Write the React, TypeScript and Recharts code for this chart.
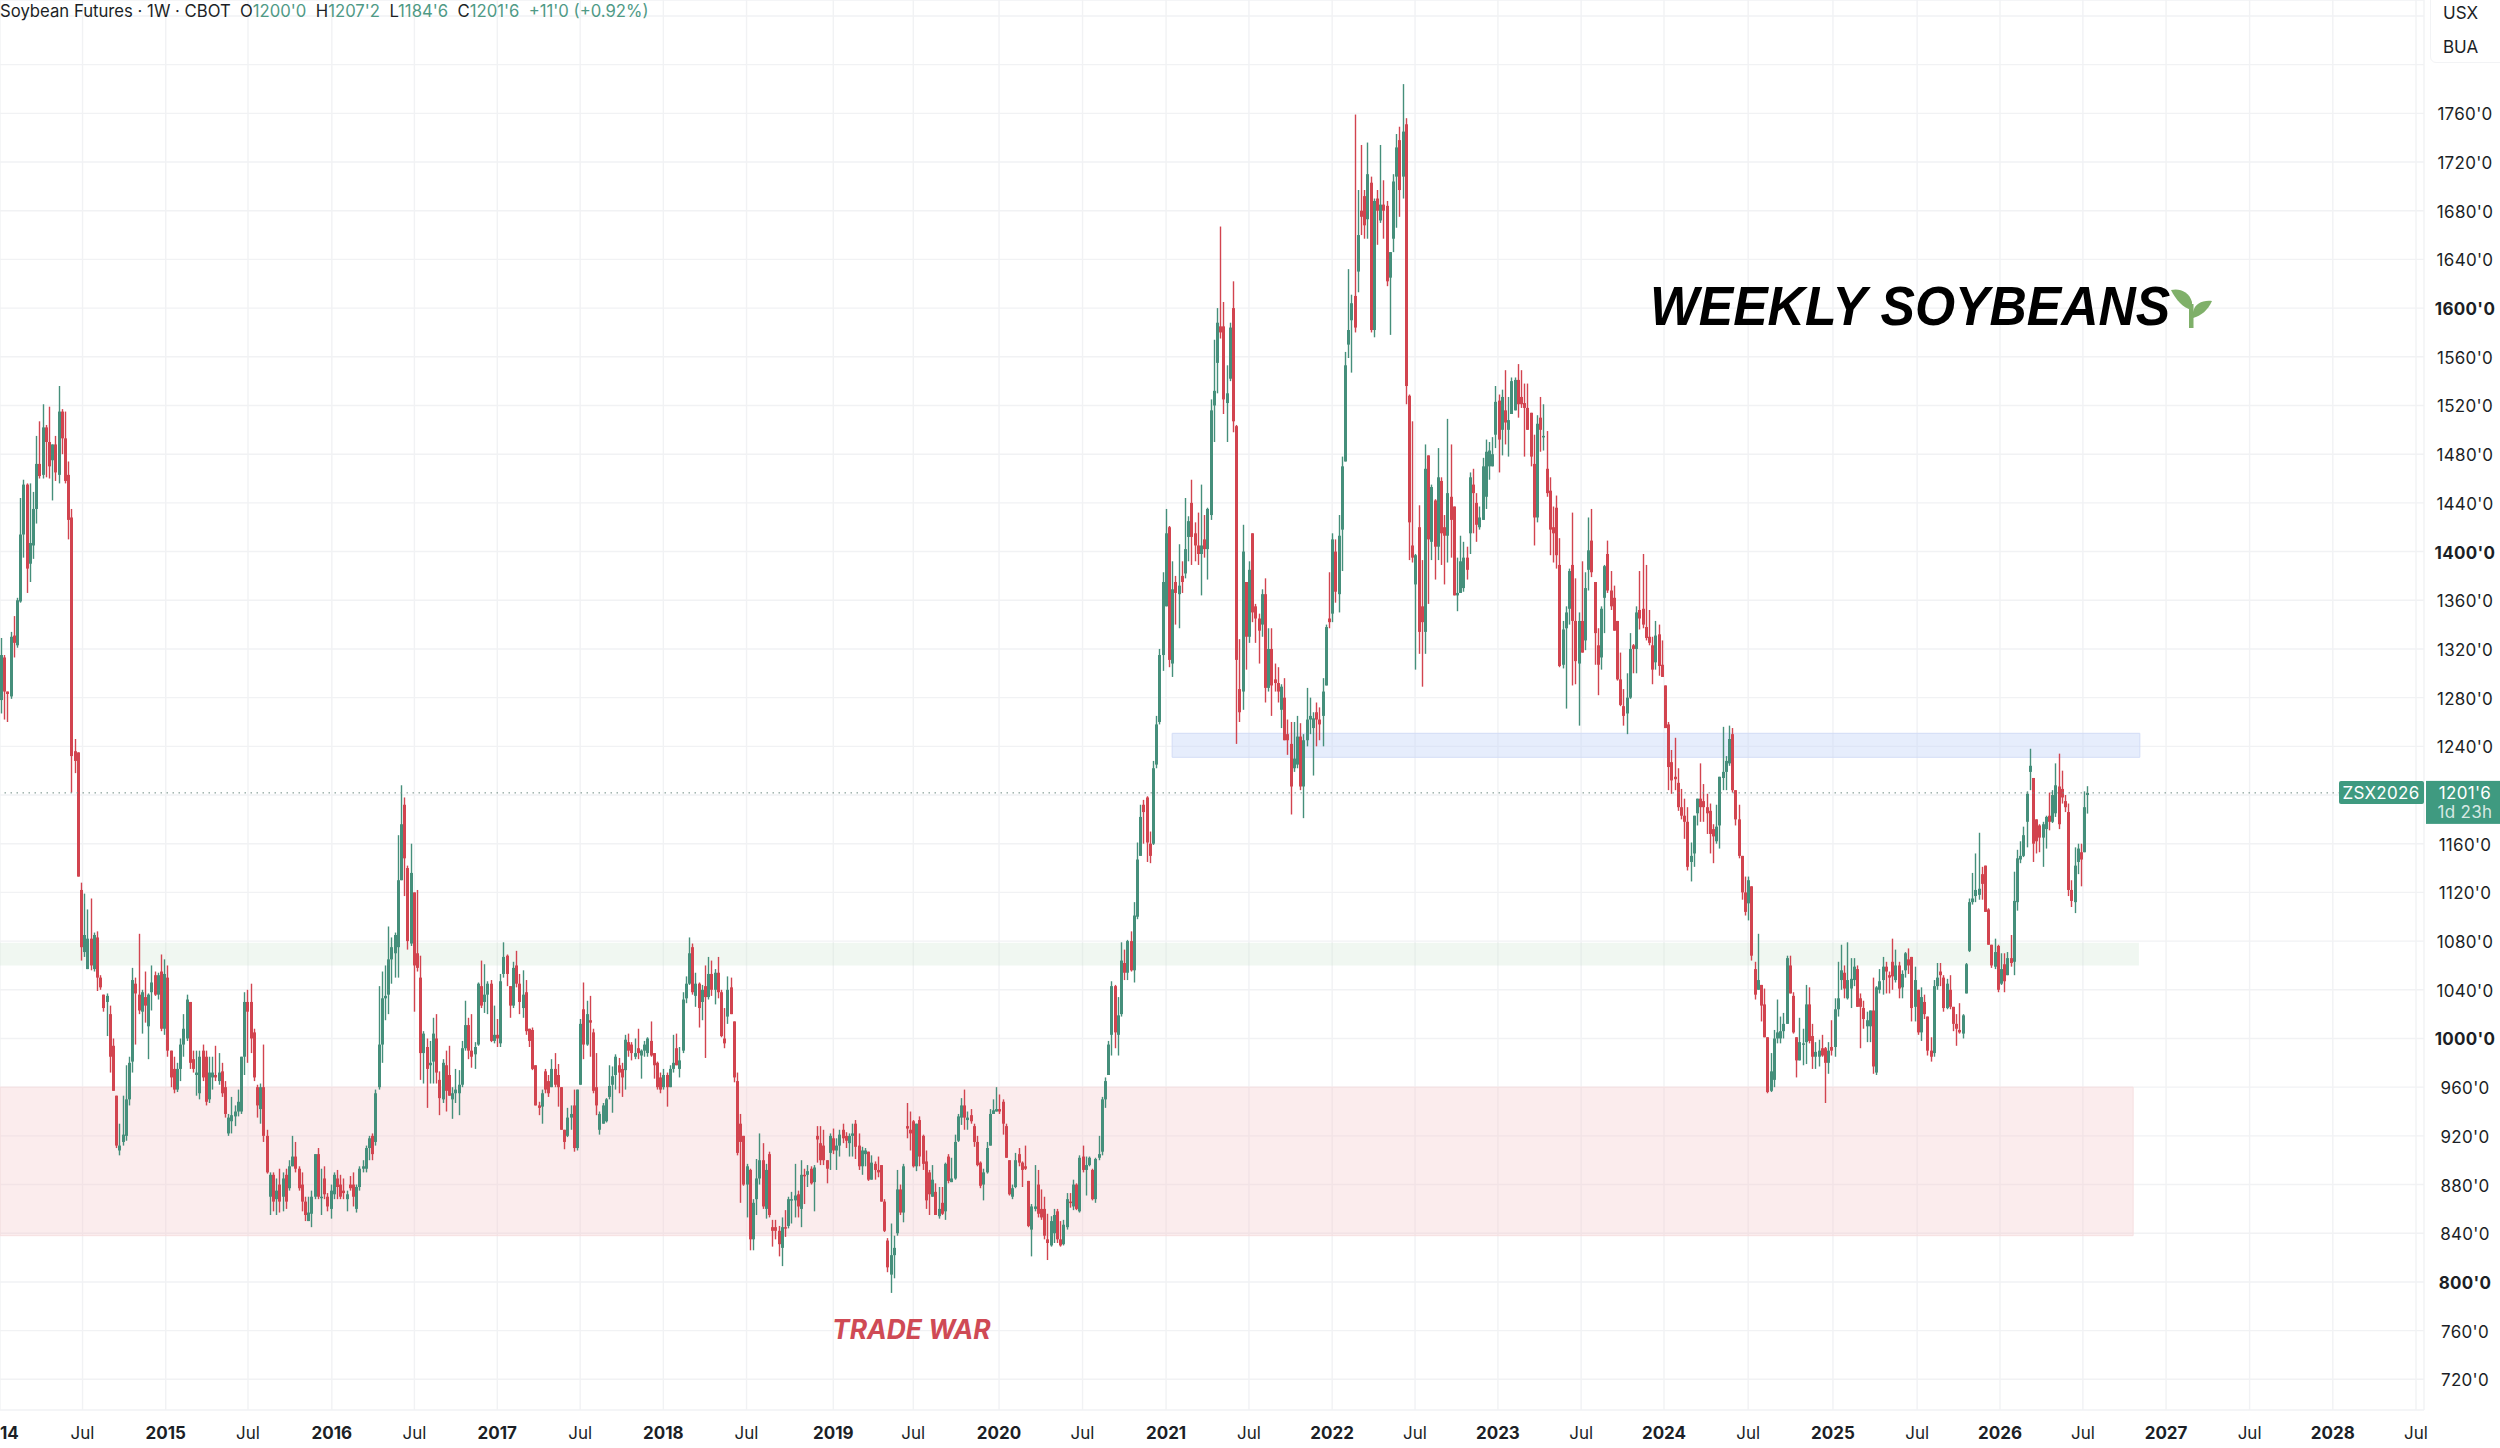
import {
  ComposedChart,
  Bar,
  XAxis,
  YAxis,
  CartesianGrid,
  ReferenceArea,
  ReferenceLine,
} from "recharts";

// weekly candles, each row is [open, high, low, close]
const y2014a = [
  [1278,1329,1267,1315],[1313,1315,1262,1285],[1285,1285,1260,1283],[1281,1334,1279,1330],[1331,1347,1313,1325],[1323,1362,1321,1360],[1359,1444,1358,1414],[1414,1459,1395,1455],[1455,1456,1366,1386],[1390,1456,1375,1407],[1405,1449,1394,1435],[1435,1495,1423,1472],[1472,1507,1460,1462],
  [1463,1521,1460,1502],[1502,1504,1461,1490],[1490,1519,1460,1470],[1475,1488,1442,1488],[1488,1495,1458,1465],[1463,1536,1456,1515],[1515,1517,1480,1493],[1493,1515,1456,1458],[1463,1474,1410,1426],[1428,1435,1202,1232],[1236,1246,1218,1228],[1235,1235,1133,1133],[1122,1128,1064,1075],
];
const y2014b = [
  [1071,1119,1067,1085],[1057,1106,1057,1082],[1082,1115,1056,1060],[1057,1087,1055,1085],[1083,1088,1039,1050],[1050,1052,1040,1042],[1036,1036,1022,1025],[1030,1037,1002,1035],[1020,1027,972,985],[994,1000,957,957],[953,953,910,912],[908,930,904,912],[915,953,912,921],
  [920,978,916,950],[950,985,945,980],[981,1058,972,1048],[1045,1050,995,1037],[1036,1086,1020,1023],[1022,1040,1004,1038],[1034,1055,1013,1027],[1010,1037,983,1036],[1038,1060,1023,1046],[1052,1055,1035,1036],[1036,1054,1032,1052],[1055,1069,1006,1008],[1008,1065,1003,1053],
];
const y2015a = [
  [1050,1060,985,990],[990,990,960,968],[975,985,955,958],[958,980,956,975],[975,1000,965,995],[995,1020,985,1008],[1000,1036,998,1032],[1030,1030,975,980],[983,990,972,975],[970,990,953,972],[955,990,950,985],[990,995,965,968],[985,990,945,948],
  [950,985,947,972],[968,985,958,972],[970,994,965,968],[965,988,962,972],[973,980,952,955],[960,965,935,938],[922,938,920,935],[932,952,922,937],[936,945,928,940],[940,958,936,948],[940,985,938,985],[985,1038,970,1030],[1030,1040,980,1022],
];
const y2015b = [
  [1030,1045,988,1000],[1005,1008,965,968],[960,962,935,945],[942,963,930,960],[960,995,915,920],[920,925,889,890],[870,890,855,888],[888,890,858,866],[868,885,855,875],[880,893,857,866],[870,890,858,885],[888,893,860,866],[877,900,875,895],
  [895,920,895,903],[903,915,890,893],[893,895,875,877],[880,890,858,866],[866,870,850,855],[850,870,850,857],[856,875,845,870],[870,905,868,905],[905,910,868,870],[870,893,855,870],[885,895,868,872],[870,873,858,862],[860,880,852,875],
];
const y2016a = [
  [872,890,868,888],[885,892,868,878],[880,888,868,870],[875,885,868,873],[868,875,858,872],[880,887,875,877],[880,890,862,870],[860,880,857,878],[878,895,875,893],[893,900,890,895],[893,912,890,910],[910,920,900,918],[920,922,900,905],
  [915,958,912,955],[960,1043,958,995],[995,1055,980,1033],[1033,1060,1015,1035],[1036,1092,1020,1065],[1065,1083,1045,1075],[1070,1087,1050,1085],[1075,1167,1050,1130],[1130,1208,1130,1176],[1192,1198,1117,1148],[1140,1142,1073,1080],[1078,1160,1076,1136],[1120,1120,1022,1060],
];
const y2016b = [
  [1070,1122,1055,1058],[1050,1068,966,988],[988,1006,963,1004],[993,1000,943,975],[978,998,963,980],[981,1017,963,1004],[1000,1020,963,972],[966,973,937,951],[950,983,947,980],[978,990,940,957],[970,994,953,953],[950,960,934,955],[955,975,947,958],
  [955,974,937,962],[962,998,960,992],[992,1031,990,1011],[1011,1017,983,990],[990,1020,976,985],[987,997,975,993],[995,1046,994,1045],[1043,1064,1025,1027],[1030,1061,1021,1036],[1036,1047,1020,1045],[1045,1048,997,998],[998,1027,996,1003],[1003,1016,993,1000],
];
const y2017a = [
  [996,1053,993,1047],[1053,1079,1050,1067],[1068,1069,1043,1053],[1043,1043,1017,1027],[1027,1063,1025,1058],[1060,1072,1042,1045],[1045,1053,1020,1030],[1025,1056,1017,1036],[1038,1048,1003,1006],[1008,1008,993,998],[1007,1009,974,975],[978,978,945,945],[945,948,937,943],
  [944,958,930,955],[973,975,955,958],[965,970,952,955],[960,983,960,975],[975,988,960,962],[970,979,944,960],[960,960,925,925],[925,925,909,915],[920,943,919,935],[935,945,925,938],[945,958,907,910],[910,958,908,958],[962,1016,962,1012],
];
const y2017b = [
  [1024,1046,983,995],[995,1031,994,1020],[1015,1035,985,1013],[1005,1008,955,957],[960,988,937,945],[925,940,921,938],[930,947,930,945],[932,951,931,950],[952,978,950,961],[962,977,939,969],[970,987,958,985],[978,984,955,972],[975,980,952,968],
  [974,1003,958,999],[997,1004,985,990],[995,997,982,988],[985,1000,983,988],[992,1008,983,988],[986,991,967,990],[990,998,985,995],[988,1001,985,1000],[998,1014,985,986],[988,988,967,978],[980,981,958,960],[968,972,955,958],[960,975,958,970],
];
const y2018a = [
  [970,972,944,960],[960,978,960,975],[975,1003,972,980],[992,1004,978,978],[975,993,968,982],[990,1038,988,1032],[1033,1051,1029,1045],[1045,1083,1044,1070],[1075,1078,1036,1038],[1035,1054,1026,1045],[1045,1046,1009,1025],[1030,1044,1015,1040],[1043,1060,984,1034],
  [1034,1067,1032,1053],[1053,1064,1035,1040],[1040,1057,1028,1054],[1054,1067,1033,1038],[1038,1040,1001,1002],[1000,1025,992,996],[1018,1051,1012,1040],[1042,1050,1020,1020],[1014,1014,964,968],[965,972,904,906],[930,938,865,915],[920,920,879,880],[880,897,853,895],
];
const y2018b = [
  [892,893,826,835],[835,868,826,865],[868,901,855,885],[885,922,880,900],[900,914,860,862],[860,897,852,892],[905,907,853,855],[845,851,829,842],[845,851,835,842],[842,846,821,831],[828,853,813,845],[845,859,837,844],[846,870,844,868],
  [868,874,848,868],[867,897,853,871],[872,875,853,862],[860,900,845,888],[888,893,864,887],[888,896,878,891],[893,895,880,881],[882,896,858,894],[920,928,898,917],[914,928,896,900],[912,925,896,900],[900,900,881,893],[906,922,892,920],
];
const y2019a = [
  [918,926,905,908],[908,918,892,912],[912,925,903,921],[925,930,914,918],[920,923,910,916],[914,922,903,920],[920,930,903,922],[930,933,901,911],[912,922,892,895],[895,911,888,908],[905,910,895,908],[907,907,883,884],[884,904,884,898],
  [897,899,884,892],[892,903,886,890],[896,896,866,866],[866,868,841,842],[834,836,808,812],[806,848,791,822],[822,838,803,828],[840,892,838,876],[876,880,855,857],[857,897,849,895],[928,947,918,926],[925,940,908,922],[932,933,894,895],
];
const y2019b = [
  [895,930,891,930],[933,936,895,903],[920,921,892,897],[899,908,860,867],[890,892,855,872],[870,896,870,884],[874,881,855,855],[854,878,852,860],[865,878,855,856],[858,898,851,897],[903,905,881,883],[882,902,882,885],[885,921,884,915],
  [916,938,915,936],[935,951,929,945],[945,958,925,935],[933,940,925,935],[937,942,930,932],[928,930,911,915],[915,920,895,896],[898,899,877,879],[880,893,867,890],[890,915,889,910],[912,942,912,938],[938,950,938,941],[940,960,940,942],
];
const y2020a = [
  [942,954,938,940],[948,950,921,930],[928,930,902,902],[900,900,871,872],[870,880,868,877],[878,906,877,900],[905,910,895,898],[898,899,878,892],[895,912,892,893],[883,883,845,846],[843,864,821,862],[860,896,858,862],[880,892,853,856],
  [860,876,851,853],[860,870,835,838],[835,856,818,832],[830,854,829,850],[840,860,832,855],[858,860,832,835],[835,850,829,830],[831,851,830,847],[845,873,843,868],[866,873,861,865],[862,884,859,880],[880,881,859,860],[858,904,857,902],
];
const y2020b = [
  [903,912,890,892],[892,903,871,896],[896,903,895,902],[892,893,867,868],[868,902,865,901],[902,920,900,905],[907,952,904,950],[950,968,943,965],[970,998,970,995],[1003,1047,986,1043],[1043,1044,992,1005],[1003,1034,986,1019],[1020,1079,1018,1064],
  [1062,1073,1048,1054],[1054,1081,1048,1080],[1080,1088,1055,1056],[1056,1112,1046,1101],[1100,1161,1098,1147],[1150,1192,1150,1182],[1192,1196,1160,1186],[1198,1199,1145,1161],[1160,1170,1144,1150],[1160,1228,1159,1222],[1225,1265,1222,1258],[1260,1320,1258,1315],[1315,1383,1302,1375],
];
const y2021a = [
  [1355,1435,1355,1415],[1420,1421,1305,1311],[1308,1392,1297,1369],[1375,1380,1340,1366],[1365,1406,1337,1372],[1380,1392,1366,1375],[1382,1444,1378,1402],[1412,1429,1392,1425],[1440,1459,1389,1412],[1415,1424,1392,1405],[1405,1432,1389,1398],[1398,1455,1364,1405],[1410,1430,1395,1402],
  [1402,1436,1377,1435],[1430,1525,1426,1516],[1520,1574,1490,1532],[1555,1600,1530,1588],[1585,1667,1575,1580],[1585,1605,1513,1525],[1522,1553,1490,1530],[1542,1588,1540,1584],[1600,1622,1498,1507],[1503,1504,1242,1311],[1287,1328,1260,1268],[1285,1422,1270,1400],[1375,1375,1303,1330],
];
const y2021b = [
  [1330,1392,1325,1385],[1415,1415,1342,1350],[1355,1357,1325,1345],[1345,1349,1308,1335],[1340,1369,1330,1365],[1365,1378,1276,1288],[1288,1337,1285,1320],[1320,1337,1265,1290],[1295,1308,1285,1292],[1292,1305,1276,1285],[1270,1291,1255,1289],[1280,1296,1245,1245],[1250,1262,1233,1245],
  [1242,1260,1184,1207],[1222,1260,1219,1230],[1225,1265,1222,1248],[1248,1259,1204,1207],[1207,1250,1181,1245],[1245,1288,1240,1262],[1262,1280,1250,1265],[1255,1268,1216,1263],[1268,1276,1240,1262],[1262,1272,1245,1258],[1265,1296,1240,1285],[1290,1340,1290,1338],[1345,1383,1337,1342],
];
const y2022a = [
  [1349,1415,1342,1410],[1400,1410,1358,1367],[1365,1430,1350,1413],[1418,1478,1384,1470],[1474,1564,1474,1553],[1570,1632,1559,1582],[1590,1611,1547,1604],[1610,1759,1580,1584],[1630,1697,1613,1660],[1680,1734,1660,1675],[1692,1697,1657,1668],[1673,1736,1657,1710],[1703,1708,1580,1582],
  [1582,1690,1576,1688],[1690,1697,1652,1680],[1672,1734,1670,1685],[1685,1705,1657,1680],[1684,1688,1618,1622],[1625,1646,1578,1646],[1657,1710,1646,1704],[1708,1743,1666,1732],[1738,1749,1675,1697],[1708,1784,1690,1745],[1751,1756,1521,1536],[1528,1529,1393,1424],[1405,1507,1391,1395],
];
const y2022b = [
  [1373,1398,1303,1397],[1420,1438,1316,1334],[1355,1393,1289,1342],[1334,1488,1316,1468],[1479,1479,1357,1410],[1408,1455,1393,1453],[1442,1443,1377,1404],[1404,1485,1393,1461],[1458,1461,1389,1415],[1420,1430,1373,1413],[1413,1509,1391,1448],[1445,1488,1395,1426],[1437,1437,1364,1364],
  [1364,1395,1351,1366],[1366,1413,1366,1392],[1370,1408,1367,1395],[1395,1404,1377,1385],[1415,1465,1398,1461],[1455,1468,1415,1448],[1440,1448,1408,1422],[1420,1437,1418,1428],[1426,1477,1426,1470],[1445,1492,1435,1482],[1470,1490,1459,1483],[1470,1494,1470,1480],[1496,1536,1485,1523],
];
const y2023a = [
  [1524,1529,1465,1492],[1500,1533,1479,1527],[1516,1549,1488,1506],[1500,1527,1478,1508],[1513,1543,1515,1540],[1516,1543,1516,1541],[1541,1554,1510,1521],[1527,1549,1518,1521],[1522,1538,1478,1518],[1518,1538,1500,1500],[1514,1514,1470,1478],[1472,1496,1405,1428],[1428,1512,1424,1505],
  [1510,1527,1482,1500],[1495,1521,1483,1495],[1468,1499,1445,1448],[1450,1461,1397,1418],[1420,1437,1391,1415],[1436,1446,1386,1397],[1389,1411,1305,1306],[1307,1343,1304,1336],[1337,1355,1271,1350],[1353,1386,1340,1384],[1389,1432,1290,1343],[1343,1378,1291,1310],[1308,1350,1257,1343],
];
const y2023b = [
  [1343,1392,1317,1317],[1327,1383,1319,1370],[1385,1428,1368,1401],[1409,1435,1379,1383],[1375,1375,1307,1333],[1323,1337,1282,1307],[1313,1355,1303,1353],[1362,1389,1333,1388],[1398,1409,1366,1368],[1368,1384,1352,1355],[1362,1372,1335,1335],[1343,1343,1294,1295],[1295,1317,1273,1274],
  [1273,1287,1257,1265],[1267,1300,1250,1280],[1280,1333,1279,1320],[1323,1324,1300,1320],[1320,1355,1300,1350],[1352,1384,1336,1345],[1353,1398,1337,1340],[1338,1389,1327,1329],[1330,1352,1323,1325],[1323,1330,1291,1303],[1309,1343,1303,1331],[1332,1340,1298,1306],[1307,1327,1297,1297],
];
const y2024a = [
  [1290,1290,1255,1255],[1258,1260,1204,1223],[1227,1237,1201,1212],[1215,1247,1204,1213],[1210,1222,1187,1190],[1190,1205,1180,1183],[1183,1197,1164,1178],[1178,1190,1138,1141],[1145,1161,1129,1150],[1152,1183,1141,1183],[1185,1197,1175,1197],[1197,1226,1178,1190],[1195,1209,1178,1190],
  [1190,1201,1168,1185],[1187,1193,1152,1168],[1172,1176,1144,1166],[1162,1192,1160,1174],[1175,1215,1156,1215],[1214,1256,1204,1219],[1219,1232,1204,1228],[1226,1257,1224,1246],[1250,1255,1202,1204],[1204,1204,1175,1180],[1180,1192,1148,1150],[1150,1150,1114,1120],[1120,1133,1101,1104],
];
const y2024b = [
  [1111,1133,1097,1130],[1125,1125,1064,1068],[1057,1063,1032,1036],[1040,1086,1040,1048],[1044,1044,1014,1027],[1028,1041,1001,1001],[1001,1001,955,956],[957,988,956,973],[966,1007,960,1000],[1000,1032,996,1005],[1000,1018,996,1006],[1006,1021,1000,1012],[1012,1068,1012,1066],
  [1060,1068,1037,1037],[1035,1038,1004,1005],[1001,1001,968,982],[982,1017,982,997],[996,1008,978,996],[997,1044,979,1028],[1028,1042,996,998],[1002,1012,975,985],[985,997,975,989],[985,999,977,990],[992,1003,985,986],[992,993,947,980],[980,997,971,990],
];
const y2025a = [
  [993,1015,986,990],[993,1033,985,1024],[1024,1063,1018,1033],[1048,1077,1040,1056],[1054,1060,1033,1041],[1033,1079,1032,1048],[1041,1066,1025,1049],[1048,1066,1043,1059],[1057,1060,1026,1026],[1033,1037,992,1026],[1025,1031,1008,1016],[1010,1022,997,1015],[1010,1023,997,1023],
  [1023,1050,971,977],[972,1043,970,1042],[1040,1057,1037,1047],[1048,1067,1036,1059],[1059,1063,1037,1055],[1052,1055,1037,1050],[1063,1082,1040,1051],[1048,1073,1046,1060],[1060,1063,1033,1041],[1042,1056,1033,1053],[1056,1071,1050,1070],[1065,1074,1053,1060],[1067,1067,1014,1025],
];
const y2025b = [
  [1026,1059,1014,1048],[1040,1040,1003,1005],[1005,1042,998,1034],[1030,1036,1016,1020],[1018,1018,986,990],[990,1001,981,985],[988,1048,985,1043],[1043,1062,1040,1050],[1055,1062,1043,1052],[1050,1052,1022,1025],[1025,1049,1024,1045],[1040,1052,1024,1026],[1026,1026,1006,1012],
  [1012,1020,994,1008],[1007,1029,1004,1005],[1004,1020,1000,1019],[1037,1062,1037,1061],[1072,1115,1071,1112],[1112,1136,1110,1115],[1117,1152,1112,1122],[1118,1169,1114,1123],[1135,1141,1114,1127],[1142,1142,1104,1104],[1106,1107,1077,1077],[1077,1077,1058,1060],[1059,1082,1057,1071],
];
const y2026 = [
  [1076,1077,1038,1040],[1045,1070,1044,1057],[1061,1070,1038,1047],[1052,1071,1052,1066],[1066,1085,1059,1062],[1063,1137,1052,1113],[1112,1155,1105,1148],[1147,1162,1144,1150],[1150,1174,1149,1167],[1178,1203,1157,1201],[1219,1238,1204,1224],[1214,1214,1145,1160],[1180,1180,1152,1162],
  [1175,1176,1153,1165],[1165,1178,1141,1176],[1172,1183,1156,1182],[1183,1202,1171,1178],[1178,1204,1177,1200],[1185,1226,1182,1208],[1207,1234,1172,1176],[1205,1220,1193,1198],[1195,1200,1186,1190],[1186,1193,1117,1122],[1122,1130,1108,1113],[1112,1157,1103,1142],[1145,1160,1135,1156],[1153,1160,1125,1147],[1153,1203,1153,1190],[1200,1207.25,1184.75,1201.75],
];

const priceTicks = [720,760,800,840,880,920,960,1000,1040,1080,1120,1160,1200,1240,1280,1320,1360,1400,1440,1480,1520,1560,1600,1640,1680,1720,1760,1800,1840];
const boldPrices = [800, 1000, 1400, 1600];
const hiddenPrices = [1200, 1800, 1840];

// time axis in chart weeks counted from the left edge
const timeTicks = [0,25.8,51.8,77.5,103.7,129.5,155.4,181.3,207.3,233.3,260.4,285.4,312.2,338.3,364.4,390.3,416.3,442.2,468.1,494.1,520,546.3,572.8,599.1,625,650.9,676.9,703,729,755];
const timeLabels = ["14","Jul","2015","Jul","2016","Jul","2017","Jul","2018","Jul","2019","Jul","2020","Jul","2021","Jul","2022","Jul","2023","Jul","2024","Jul","2025","Jul","2026","Jul","2027","Jul","2028","Jul"];

const UP = "#458f7b";
const DOWN = "#d2444f";
const TAG = "#3f9a80";
const INK = "#1c1f26";
const lastPrice = 1201.75;

const candles = [
  ...y2014a, ...y2014b, ...y2015a, ...y2015b, ...y2016a, ...y2016b, ...y2017a, ...y2017b,
  ...y2018a, ...y2018b, ...y2019a, ...y2019b, ...y2020a, ...y2020b, ...y2021a, ...y2021b,
  ...y2022a, ...y2022b, ...y2023a, ...y2023b, ...y2024a, ...y2024b, ...y2025a, ...y2025b, ...y2026,
];
const data = candles.map(([open, high, low, close], i) => ({
  week: i + 0.53,
  range: [low, high],
  open,
  high,
  low,
  close,
}));

function Candle(props: any) {
  const { x, y, width, height, payload } = props;
  const { open, high, low, close } = payload;
  const perUnit = height / (high - low || 1);
  const yOf = (p: number) => y + (high - p) * perUnit;
  const color = close >= open ? UP : DOWN;
  const top = yOf(Math.max(open, close));
  const bodyH = Math.max(Math.abs(open - close) * perUnit, 1.5);
  const left = Math.round(x);
  return (
    <g>
      <rect x={left + width / 2 - 0.7} y={y} width={1.4} height={height} fill={color} />
      <rect x={left} y={top} width={width} height={bodyH} fill={color} />
    </g>
  );
}

function PriceTick({ x, y, payload }: any) {
  if (hiddenPrices.includes(payload.value)) return null;
  return (
    <text
      x={x + 33}
      y={y}
      dy={7}
      textAnchor="middle"
      fontFamily="Inter"
      fontSize={17}
      letterSpacing={0.3}
      fontWeight={boldPrices.includes(payload.value) ? 700 : 400}
      fill={INK}
    >
      {payload.value}'0
    </text>
  );
}

function TimeTick({ x, y, index }: any) {
  const label = timeLabels[index];
  const isYear = label !== "Jul";
  return (
    <text
      x={x}
      y={y}
      dy={21}
      textAnchor={label === "14" ? "start" : "middle"}
      fontFamily="Inter"
      fontSize={17}
      fontWeight={isYear ? 700 : 400}
      fill={INK}
    >
      {label}
    </text>
  );
}

function LastPriceTag({ viewBox }: any) {
  const y = viewBox.y;
  return (
    <g fontFamily="Inter" fontSize={17} letterSpacing={0.3} fill="#fff">
      <rect x={2339} y={y - 12} width={85} height={23} rx={2} fill={TAG} />
      <text x={2381} y={y + 6} textAnchor="middle">ZSX2026</text>
      <rect x={2426} y={y - 12} width={74} height={43} fill={TAG} />
      <text x={2465} y={y + 6} textAnchor="middle">1201'6</text>
      <text x={2465} y={y + 25} textAnchor="middle" fillOpacity={0.8}>1d 23h</text>
    </g>
  );
}

function App() {
  const greenText = { color: "#4f9a86" };
  return (
    <div style={{ position: "absolute", left: 0, top: 0, width: 2500, height: 1448, background: "#fff", overflow: "hidden" }}>
      <ComposedChart
        width={2500}
        height={1448}
        data={data}
        margin={{ top: 0, right: 0, bottom: 0, left: 0 }}
      >
        <CartesianGrid stroke="#f1f2f4" strokeWidth={1.4} />
        <XAxis
          dataKey="week"
          type="number"
          domain={[0, 757.5]}
          allowDataOverflow
          ticks={timeTicks}
          interval={0}
          height={38}
          axisLine={false}
          tickLine={false}
          tick={<TimeTick />}
        />
        <YAxis
          orientation="right"
          type="number"
          domain={[694.8, 1853.1]}
          allowDataOverflow
          ticks={priceTicks}
          interval={0}
          width={76}
          axisLine={false}
          tickLine={false}
          tick={<PriceTick />}
        />
        <ReferenceArea x1={0} x2={666.6} y1={838} y2={960} fill="#f4c9cc" fillOpacity={0.35} stroke="#f6dfe0" ifOverflow="hidden" />
        <ReferenceArea x1={0} x2={668.4} y1={1060} y2={1078.7} fill="#cfe6d2" fillOpacity={0.32} stroke="none" ifOverflow="hidden" />
        <ReferenceArea x1={366.3} x2={668.7} y1={1231} y2={1250.7} fill="#c3d3f7" fillOpacity={0.42} stroke="#d3ddf6" ifOverflow="hidden" />
        <ReferenceLine y={lastPrice} stroke="#6e8a82" strokeDasharray="1.5 4.5" segment={[{ x: 0, y: lastPrice }, { x: 730.5, y: lastPrice }]} label={<LastPriceTag />} />
        <Bar dataKey="range" barSize={3} shape={<Candle />} isAnimationActive={false} />
      </ComposedChart>

      <div style={{ position: "absolute", left: 0, top: 1, fontFamily: "Inter", fontSize: 16.7, lineHeight: "20px", color: INK, whiteSpace: "pre" }}>
        Soybean Futures · 1W · CBOT{"  "}O<span style={greenText}>1200'0</span>{"  "}H<span style={greenText}>1207'2</span>{"  "}L<span style={greenText}>1184'6</span>{"  "}C<span style={greenText}>1201'6</span>{"  "}<span style={greenText}>+11'0 (+0.92%)</span>
      </div>

      <div style={{ position: "absolute", left: 2428, top: 0, width: 72, height: 69, background: "#fff" }} />
      <div style={{ position: "absolute", left: 2430, top: -6, width: 76, height: 69, borderRadius: 6, border: "1px solid #f2f3f5", boxSizing: "border-box", fontFamily: "Inter", fontSize: 17, color: INK }}>
        <div style={{ position: "absolute", left: 12, top: 8 }}>USX</div>
        <div style={{ position: "absolute", left: 12, top: 42 }}>BUA</div>
      </div>

      <div style={{ position: "absolute", left: 1650, top: 266, transform: "scaleX(0.922)", transformOrigin: "left center", fontFamily: "Liberation Sans", fontWeight: 700, fontStyle: "italic", fontSize: 56, lineHeight: "80px", color: "#000", whiteSpace: "pre" }}>
        WEEKLY SOYBEANS
      </div>
      <svg style={{ position: "absolute", left: 2171, top: 288 }} width={41} height={40} viewBox="0 0 41 40">
        <path d="M0 2 C8 0 18 3 21 14 L21 22 C12 20 5 12 0 2 Z" fill="#7fb069" />
        <path d="M41 13 C32 12 24 15 22 24 L22 30 C30 28 37 22 41 13 Z" fill="#7fb069" />
        <rect x={18} y={16} width={4.5} height={24} fill="#7fb069" />
      </svg>

      <div style={{ position: "absolute", left: 832, top: 1312, fontFamily: "Inter", fontWeight: 700, fontStyle: "italic", fontSize: 26.4, lineHeight: "34px", color: "#cf4a55", whiteSpace: "pre" }}>
        TRADE WAR
      </div>
    </div>
  );
}

export default App;
